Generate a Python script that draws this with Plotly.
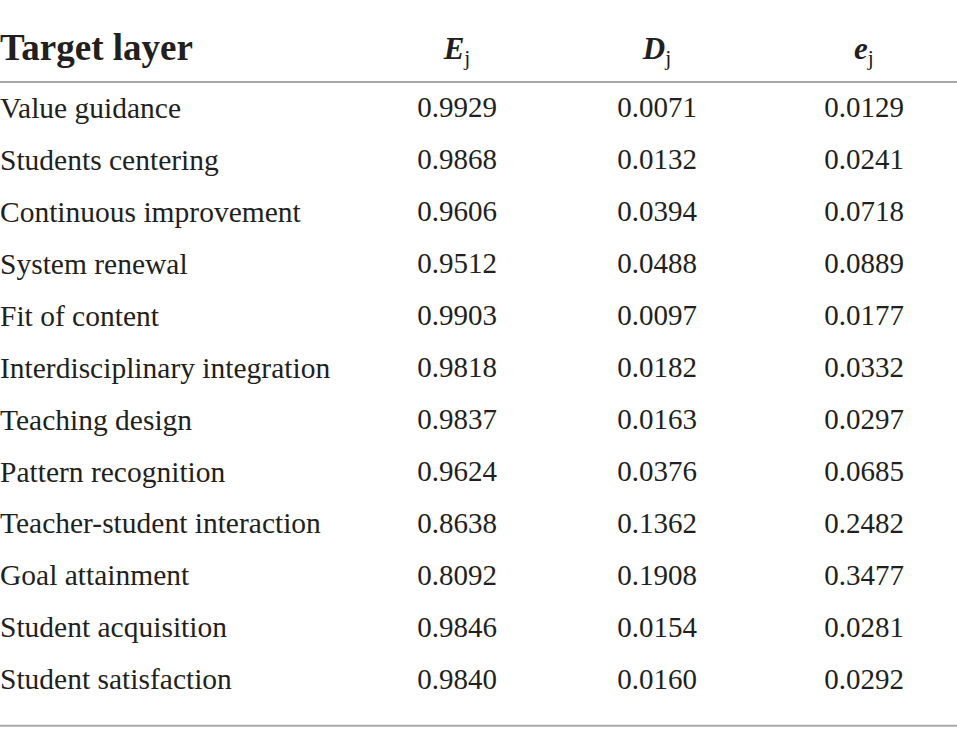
import plotly.graph_objects as go

# Table contents
layers = [
    "Value guidance", "Students centering", "Continuous improvement",
    "System renewal", "Fit of content", "Interdisciplinary integration",
    "Teaching design", "Pattern recognition", "Teacher-student interaction",
    "Goal attainment", "Student acquisition", "Student satisfaction",
]
E_j = ["0.9929", "0.9868", "0.9606", "0.9512", "0.9903", "0.9818",
       "0.9837", "0.9624", "0.8638", "0.8092", "0.9846", "0.9840"]
D_j = ["0.0071", "0.0132", "0.0394", "0.0488", "0.0097", "0.0182",
       "0.0163", "0.0376", "0.1362", "0.1908", "0.0154", "0.0160"]
e_j = ["0.0129", "0.0241", "0.0718", "0.0889", "0.0177", "0.0332",
       "0.0297", "0.0685", "0.2482", "0.3477", "0.0281", "0.0292"]

headers = ["<b>Target layer</b>", "<b><i>E</i></b><sub>j</sub>",
           "<b><i>D</i></b><sub>j</sub>", "<b><i>e</i></b><sub>j</sub>"]

# layout helpers (pixel-based x axis, row-index y axis)
col_x = [0, 457, 657, 864]
header_y = -1.14
rows = list(range(len(layers)))
font = "Liberation Serif"
ink = "#231f20"

fig = go.Figure()

# header
fig.add_trace(go.Scatter(x=[col_x[0]], y=[header_y], text=[headers[0]], mode="text",
                         textposition="middle right",
                         textfont=dict(family=font, size=37, color=ink)))
fig.add_trace(go.Scatter(x=col_x[1:], y=[header_y] * 3, text=headers[1:], mode="text",
                         textposition="middle center",
                         textfont=dict(family=font, size=31, color=ink)))

# body
fig.add_trace(go.Scatter(x=[col_x[0]] * len(layers), y=rows, text=layers, mode="text",
                         textposition="middle right",
                         textfont=dict(family=font, size=29.5, color=ink)))
for cx, col in zip(col_x[1:], [E_j, D_j, e_j]):
    fig.add_trace(go.Scatter(x=[cx] * len(col), y=rows, text=col, mode="text",
                             textposition="middle center",
                             textfont=dict(family=font, size=29, color=ink)))

# rules under the header and at the bottom
for yy in [-0.54, 11.84]:
    fig.add_shape(type="line", xref="paper", x0=0, x1=1, y0=yy, y1=yy,
                  line=dict(color="#a7a9ac", width=2))

fig.update_xaxes(range=[0, 957], visible=False, fixedrange=True)
fig.update_yaxes(range=[12.19, -2.118], visible=False, fixedrange=True)
fig.update_layout(width=957, height=744, margin=dict(l=0, r=0, t=0, b=0),
                  plot_bgcolor="white", paper_bgcolor="white", showlegend=False)

fig.write_html("out.html", config={"displayModeBar": False},
               post_script="document.body.style.margin='0px';")
